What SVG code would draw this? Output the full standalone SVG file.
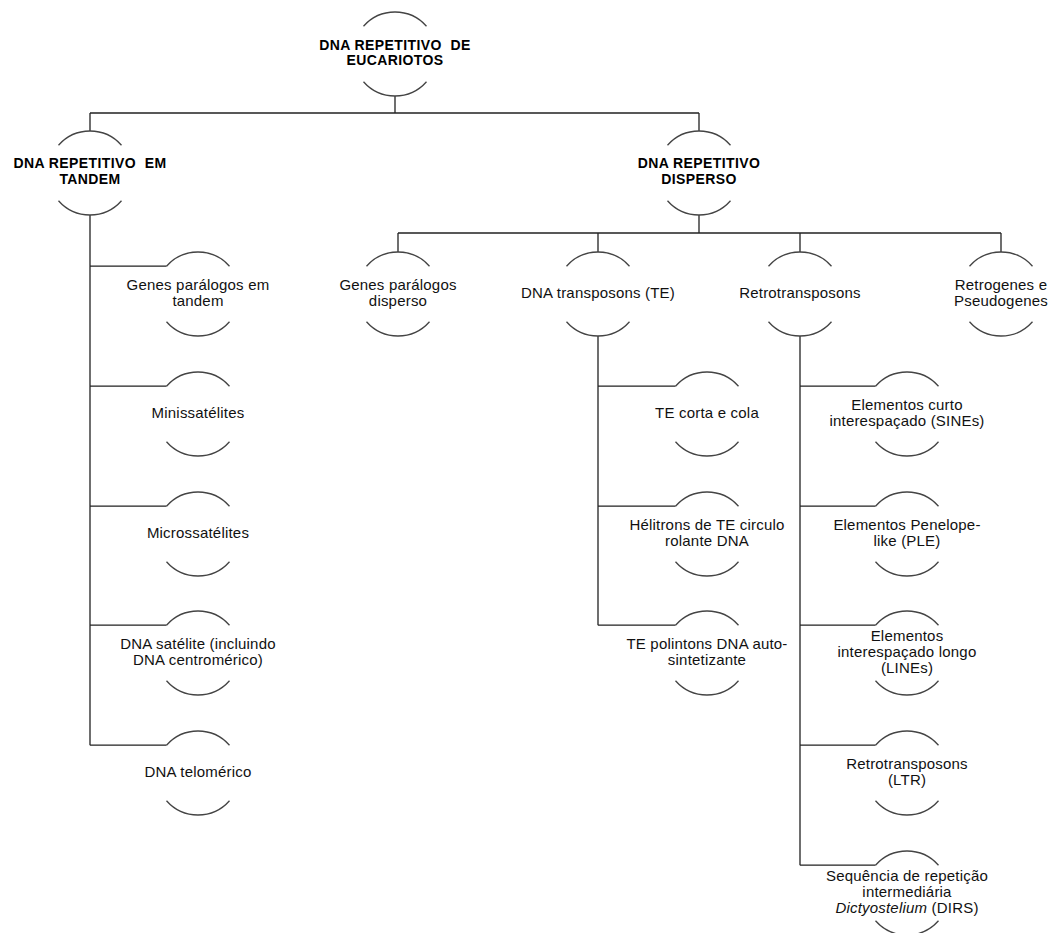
<svg xmlns="http://www.w3.org/2000/svg" xmlns:xlink="http://www.w3.org/1999/xlink" width="1053" height="933" viewBox="0 0 1053 933">
<style>
.arc{fill:none;stroke:#444;stroke-width:1.3}
.con{fill:none;stroke:#222;stroke-width:1.3}
.h{font-family:"Liberation Sans",Arial,sans-serif;font-size:14px;font-weight:bold;fill:#000;text-anchor:middle;letter-spacing:0.4px}
.t{font-family:"Liberation Sans",Arial,sans-serif;font-size:15px;fill:#111;text-anchor:middle;letter-spacing:0.2px}
</style>
<defs>
<path id="arcs" class="arc" d="M-31.5,-27.8 A42,42 0 0 1 31.5,-27.8 M-31.5,27.8 A42,42 0 0 0 31.5,27.8"/>
</defs>
<rect width="1053" height="933" fill="#fff"/>
<g id="connectors" class="con">
<path d="M395,96 V113 M90,113 H699 M90,113 V131 M699,113 V131"/>
<path d="M90,215 V745.2 M90,266.2 H166.5 M90,386.2 H166.5 M90,506.2 H166.5 M90,625.2 H166.5 M90,745.2 H166.5"/>
<path d="M699,215 V233 M398,233 H1001 M398,233 V252 M598,233 V252 M800,233 V252 M1001,233 V252"/>
<path d="M598,336 V625.2 M598,386.2 H675.5 M598,506.2 H675.5 M598,625.2 H675.5"/>
<path d="M800,336 V865.2 M800,386.2 H875.5 M800,506.2 H875.5 M800,625.2 H875.5 M800,745.2 H875.5 M800,865.2 H875.5"/>
</g>
<g id="root"><use href="#arcs" x="395" y="54"/><text class="h" xml:space="preserve"><tspan x="395" y="50">DNA REPETITIVO  DE</tspan><tspan x="395" y="65">EUCARIOTOS</tspan></text></g>
<g id="tandem"><use href="#arcs" x="90" y="173"/><text class="h" xml:space="preserve"><tspan x="90" y="168">DNA REPETITIVO  EM</tspan><tspan x="90" y="184">TANDEM</tspan></text></g>
<g id="disperso"><use href="#arcs" x="699" y="173"/><text class="h"><tspan x="699" y="168">DNA REPETITIVO</tspan><tspan x="699" y="184">DISPERSO</tspan></text></g>
<g id="genes-tandem"><use href="#arcs" x="198" y="294"/><text class="t"><tspan x="198" y="290">Genes parálogos em</tspan><tspan x="198" y="306">tandem</tspan></text></g>
<g id="minissatelites"><use href="#arcs" x="198" y="414"/><text class="t" x="198" y="418">Minissatélites</text></g>
<g id="microssatelites"><use href="#arcs" x="198" y="534"/><text class="t" x="198" y="538">Microssatélites</text></g>
<g id="satelite"><use href="#arcs" x="198" y="653"/><text class="t"><tspan x="198" y="649">DNA satélite (incluindo</tspan><tspan x="198" y="665">DNA centromérico)</tspan></text></g>
<g id="telomerico"><use href="#arcs" x="198" y="773"/><text class="t" x="198" y="777">DNA telomérico</text></g>
<g id="genes-disperso"><use href="#arcs" x="398" y="294"/><text class="t"><tspan x="398" y="290">Genes parálogos</tspan><tspan x="398" y="306">disperso</tspan></text></g>
<g id="dna-transposons"><use href="#arcs" x="598" y="294"/><text class="t" x="598" y="298">DNA transposons (TE)</text></g>
<g id="retrotransposons"><use href="#arcs" x="800" y="294"/><text class="t" x="800" y="298">Retrotransposons</text></g>
<g id="retrogenes"><use href="#arcs" x="1001" y="294"/><text class="t"><tspan x="1001" y="290">Retrogenes e</tspan><tspan x="1001" y="306">Pseudogenes</tspan></text></g>
<g id="te-corta"><use href="#arcs" x="707" y="414"/><text class="t" x="707" y="418">TE corta e cola</text></g>
<g id="helitrons"><use href="#arcs" x="707" y="534"/><text class="t"><tspan x="707" y="530">Hélitrons de TE circulo</tspan><tspan x="707" y="546">rolante DNA</tspan></text></g>
<g id="polintons"><use href="#arcs" x="707" y="653"/><text class="t"><tspan x="707" y="649">TE polintons DNA auto-</tspan><tspan x="707" y="665">sintetizante</tspan></text></g>
<g id="sines"><use href="#arcs" x="907" y="414"/><text class="t"><tspan x="907" y="410">Elementos curto</tspan><tspan x="907" y="426">interespaçado (SINEs)</tspan></text></g>
<g id="ple"><use href="#arcs" x="907" y="534"/><text class="t"><tspan x="907" y="530">Elementos Penelope-</tspan><tspan x="907" y="546">like (PLE)</tspan></text></g>
<g id="lines"><use href="#arcs" x="907" y="653"/><text class="t"><tspan x="907" y="641">Elementos</tspan><tspan x="907" y="657">interespaçado longo</tspan><tspan x="907" y="673">(LINEs)</tspan></text></g>
<g id="ltr"><use href="#arcs" x="907" y="773"/><text class="t"><tspan x="907" y="769">Retrotransposons</tspan><tspan x="907" y="785">(LTR)</tspan></text></g>
<g id="dirs"><use href="#arcs" x="907" y="893"/><text class="t"><tspan x="907" y="881">Sequência de repetição</tspan><tspan x="907" y="897">intermediária</tspan><tspan x="907" y="913"><tspan font-style="italic">Dictyostelium</tspan> (DIRS)</tspan></text></g>
</svg>
